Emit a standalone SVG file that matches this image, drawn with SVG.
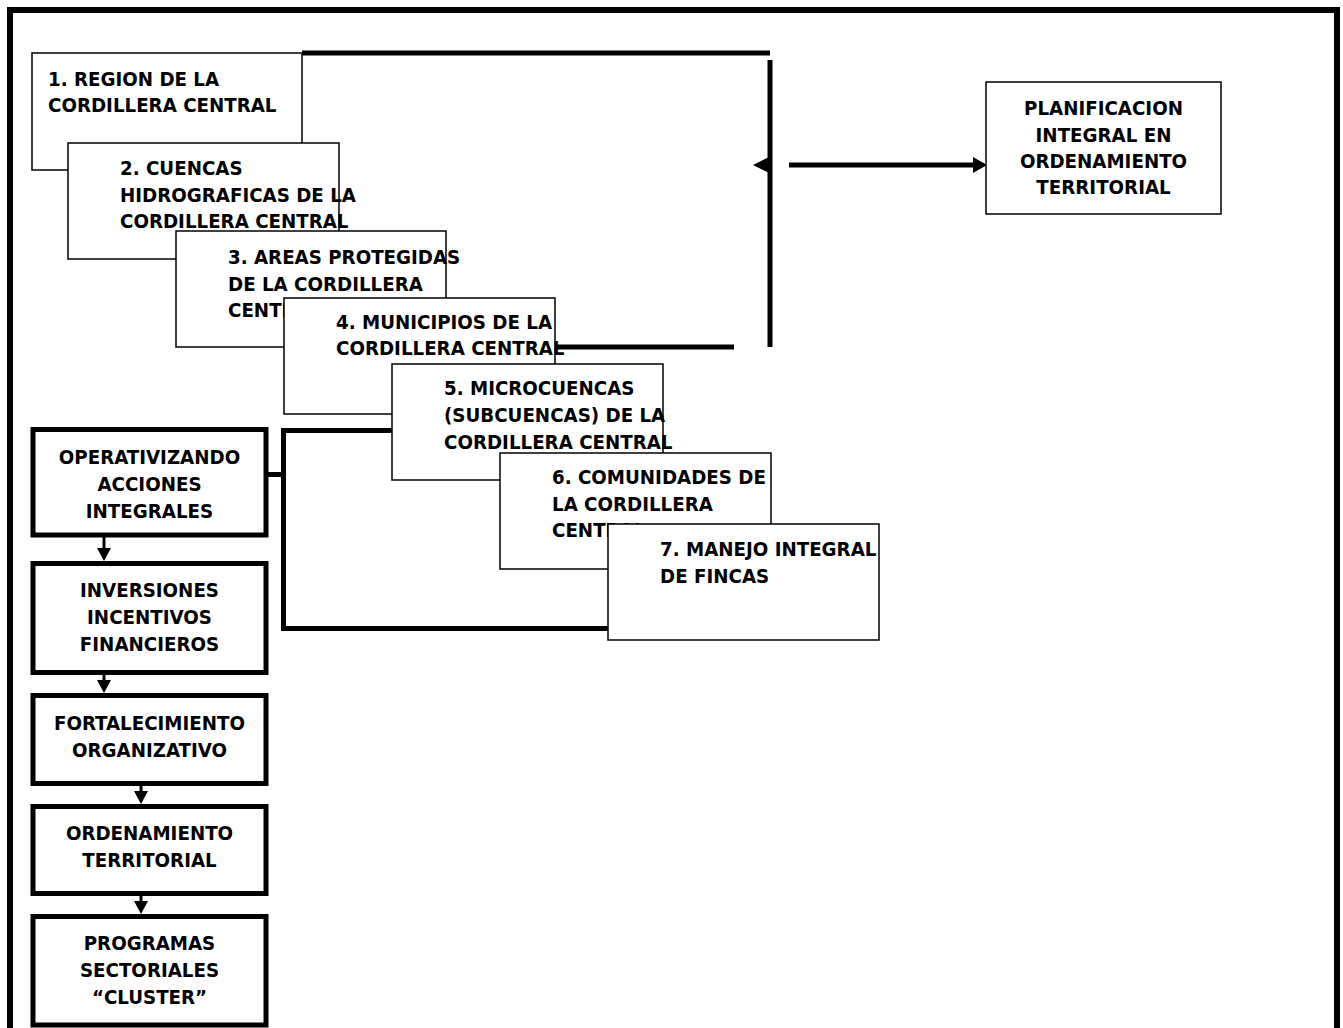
<svg xmlns="http://www.w3.org/2000/svg" width="1343" height="1028" viewBox="0 0 1343 1028">
<style>
text { font-family: "DejaVu Sans Condensed", "DejaVu Sans", sans-serif; font-stretch: condensed; font-weight: bold; font-size: 20.3px; fill: #000; }
.c { text-anchor: middle; }
.tbox { fill: #fff; stroke: #000; stroke-width: 1.5; }
.kbox { fill: #fff; stroke: #000; stroke-width: 5; }
.conn { fill: none; stroke: #000; stroke-width: 5; }
.ar { fill: none; stroke: #000; stroke-width: 3; }
.head { fill: #000; }
</style>
<rect x="10" y="10" width="1327" height="1050" fill="none" stroke="#000" stroke-width="6"/>
<g id="connectors">
  <path class="conn" d="M302,53 H770" stroke-width="4"/>
  <path class="conn" d="M770,60 V347"/>
  <path class="conn" d="M557,347 H734"/>
  <path class="conn" d="M268,474.5 H283.5"/>
  <path class="conn" d="M392,430.5 H283.5 V628.5 H608"/>
  <path class="conn" d="M789,165 H974"/>
  <polygon class="head" points="987,165 973,157 973,173"/>
  <polygon class="head" points="753,165 768,157.5 768,172.5"/>
  <path class="ar" d="M104,537 V550"/>
  <polygon class="head" points="97,548 111,548 104,561"/>
  <path class="ar" d="M104,675 V682"/>
  <polygon class="head" points="97,680 111,680 104,693"/>
  <path class="ar" d="M141,786 V793"/>
  <polygon class="head" points="134,791 148,791 141,804"/>
  <path class="ar" d="M141,896 V903"/>
  <polygon class="head" points="134,901 148,901 141,914"/>
</g>
<g id="n1">
  <rect class="tbox" x="32" y="53" width="270" height="117"/>
  <text x="48" y="86">1. REGION DE LA</text>
  <text x="48" y="112">CORDILLERA CENTRAL</text>
</g>
<g id="n2">
  <rect class="tbox" x="68" y="143" width="271" height="116"/>
  <text x="120" y="175">2. CUENCAS</text>
  <text x="120" y="201.5">HIDROGRAFICAS DE LA</text>
  <text x="120" y="228">CORDILLERA CENTRAL</text>
</g>
<g id="n3">
  <rect class="tbox" x="176" y="231" width="270" height="116"/>
  <text x="228" y="264">3. AREAS PROTEGIDAS</text>
  <text x="228" y="290.5">DE LA CORDILLERA</text>
  <text x="228" y="317">CENTRAL</text>
</g>
<g id="n4">
  <rect class="tbox" x="284" y="298" width="271" height="116"/>
  <text x="336" y="329">4. MUNICIPIOS DE LA</text>
  <text x="336" y="355">CORDILLERA CENTRAL</text>
</g>
<g id="n5">
  <rect class="tbox" x="392" y="364" width="271" height="116"/>
  <text x="444" y="395">5. MICROCUENCAS</text>
  <text x="444" y="422">(SUBCUENCAS) DE LA</text>
  <text x="444" y="449">CORDILLERA CENTRAL</text>
</g>
<g id="n6">
  <rect class="tbox" x="500" y="453" width="271" height="116"/>
  <text x="552" y="484">6. COMUNIDADES DE</text>
  <text x="552" y="511">LA CORDILLERA</text>
  <text x="552" y="537">CENTRAL</text>
</g>
<g id="n7">
  <rect class="tbox" x="608" y="524" width="271" height="116"/>
  <text x="660" y="556">7. MANEJO INTEGRAL</text>
  <text x="660" y="583">DE FINCAS</text>
</g>
<g id="plan">
  <rect class="tbox" x="986" y="82" width="235" height="132"/>
  <text class="c" x="1103.5" y="115">PLANIFICACION</text>
  <text class="c" x="1103.5" y="142">INTEGRAL EN</text>
  <text class="c" x="1103.5" y="168">ORDENAMIENTO</text>
  <text class="c" x="1103.5" y="194">TERRITORIAL</text>
</g>
<g id="k1">
  <rect class="kbox" x="33" y="429.5" width="233" height="105.5"/>
  <text class="c" x="149.5" y="464">OPERATIVIZANDO</text>
  <text class="c" x="149.5" y="491">ACCIONES</text>
  <text class="c" x="149.5" y="518">INTEGRALES</text>
</g>
<g id="k2">
  <rect class="kbox" x="33" y="563.5" width="233" height="109"/>
  <text class="c" x="149.5" y="597">INVERSIONES</text>
  <text class="c" x="149.5" y="624">INCENTIVOS</text>
  <text class="c" x="149.5" y="651">FINANCIEROS</text>
</g>
<g id="k3">
  <rect class="kbox" x="33" y="695.5" width="233" height="88"/>
  <text class="c" x="149.5" y="730">FORTALECIMIENTO</text>
  <text class="c" x="149.5" y="757">ORGANIZATIVO</text>
</g>
<g id="k4">
  <rect class="kbox" x="33" y="806.5" width="233" height="87"/>
  <text class="c" x="149.5" y="840">ORDENAMIENTO</text>
  <text class="c" x="149.5" y="867">TERRITORIAL</text>
</g>
<g id="k5">
  <rect class="kbox" x="33" y="916.5" width="233" height="108.5"/>
  <text class="c" x="149.5" y="950">PROGRAMAS</text>
  <text class="c" x="149.5" y="977">SECTORIALES</text>
  <text class="c" x="149.5" y="1004">“CLUSTER”</text>
</g>
</svg>
